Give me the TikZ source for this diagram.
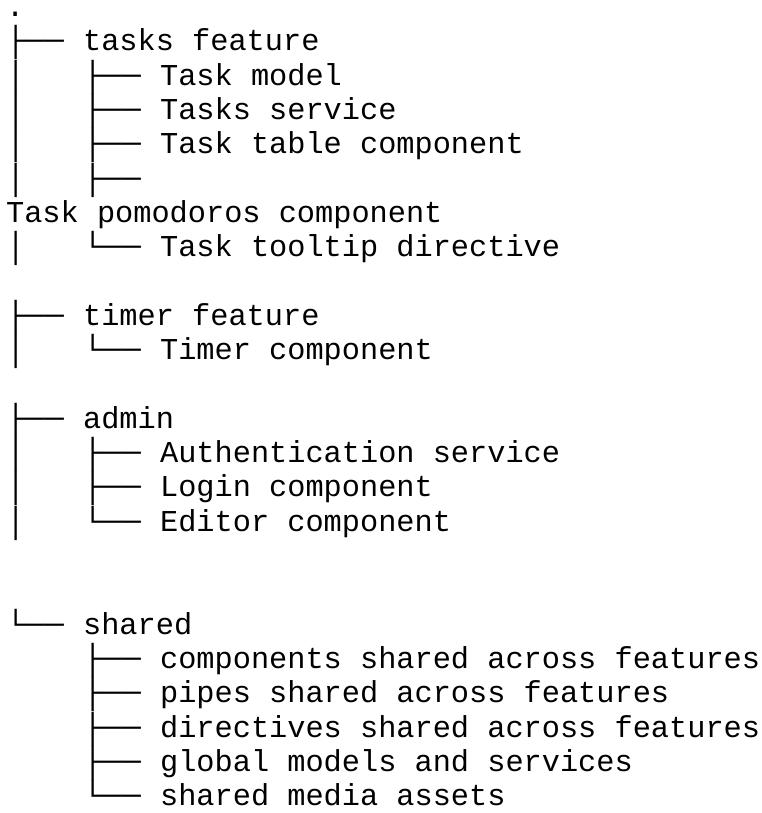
\documentclass[tikz,border=0pt]{standalone}
\usepackage{fontspec}
\setmonofont{Liberation Mono}
\newfontfamily\boxfont[FakeStretch=1.0588]{Liberation Mono}

\tikzset{
  entry/.style={anchor=base west, inner sep=0pt, font=\ttfamily\fontsize{30.3}{34.3}\selectfont},
  branch/.style={anchor=base west, inner sep=0pt, font=\boxfont\fontsize{30.3}{34.3}\selectfont}
}

\begin{document}
\begin{tikzpicture}[x=1pt,y=1pt,yscale=-1,xscale=1]
\useasboundingbox (0,0) rectangle (761,813);

% root
\draw (5.9,16.7) node [entry] (root) {.};

% tasks feature
\draw (5.9,51) node [branch] (b-tasks) {├──};
\draw (82.9,51) node [entry] (tasks) {tasks feature};
\draw (5.9,85.3) node [branch] (v-taskmodel) {│};
\draw (82.9,85.3) node [branch] (b-taskmodel) {├──};
\draw (159.9,85.3) node [entry] (taskmodel) {Task model};
\draw (5.9,119.6) node [branch] (v-tasksservice) {│};
\draw (82.9,119.6) node [branch] (b-tasksservice) {├──};
\draw (159.9,119.6) node [entry] (tasksservice) {Tasks service};
\draw (5.9,153.9) node [branch] (v-tasktable) {│};
\draw (82.9,153.9) node [branch] (b-tasktable) {├──};
\draw (159.9,153.9) node [entry] (tasktable) {Task table component};
\draw (5.9,188.2) node [branch] (v-pomodoros) {│};
\draw (82.9,188.2) node [branch] (b-pomodoros) {├──};
\draw (5.9,222.5) node [entry] (pomodoros) {Task pomodoros component};
\draw (5.9,256.8) node [branch] (v-tooltip) {│};
\draw (82.9,256.8) node [branch] (b-tooltip) {└──};
\draw (159.9,256.8) node [entry] (tooltip) {Task tooltip directive};

% timer feature
\draw (5.9,325.4) node [branch] (b-timer) {├──};
\draw (82.9,325.4) node [entry] (timer) {timer feature};
\draw (5.9,359.7) node [branch] (v-timercomp) {│};
\draw (82.9,359.7) node [branch] (b-timercomp) {└──};
\draw (159.9,359.7) node [entry] (timercomp) {Timer component};

% admin
\draw (5.9,428.3) node [branch] (b-admin) {├──};
\draw (82.9,428.3) node [entry] (admin) {admin};
\draw (5.9,462.6) node [branch] (v-auth) {│};
\draw (82.9,462.6) node [branch] (b-auth) {├──};
\draw (159.9,462.6) node [entry] (auth) {Authentication service};
\draw (5.9,496.9) node [branch] (v-login) {│};
\draw (82.9,496.9) node [branch] (b-login) {├──};
\draw (159.9,496.9) node [entry] (login) {Login component};
\draw (5.9,531.2) node [branch] (v-editor) {│};
\draw (82.9,531.2) node [branch] (b-editor) {└──};
\draw (159.9,531.2) node [entry] (editor) {Editor component};

% shared
\draw (5.9,634.1) node [branch] (b-shared) {└──};
\draw (82.9,634.1) node [entry] (shared) {shared};
\draw (82.9,668.4) node [branch] (b-sharedcomp) {├──};
\draw (159.9,668.4) node [entry] (sharedcomp) {components shared across features};
\draw (82.9,702.7) node [branch] (b-pipes) {├──};
\draw (159.9,702.7) node [entry] (pipes) {pipes shared across features};
\draw (82.9,737) node [branch] (b-directives) {├──};
\draw (159.9,737) node [entry] (directives) {directives shared across features};
\draw (82.9,771.3) node [branch] (b-global) {├──};
\draw (159.9,771.3) node [entry] (global) {global models and services};
\draw (82.9,805.6) node [branch] (b-media) {└──};
\draw (159.9,805.6) node [entry] (media) {shared media assets};

\end{tikzpicture}
\end{document}
